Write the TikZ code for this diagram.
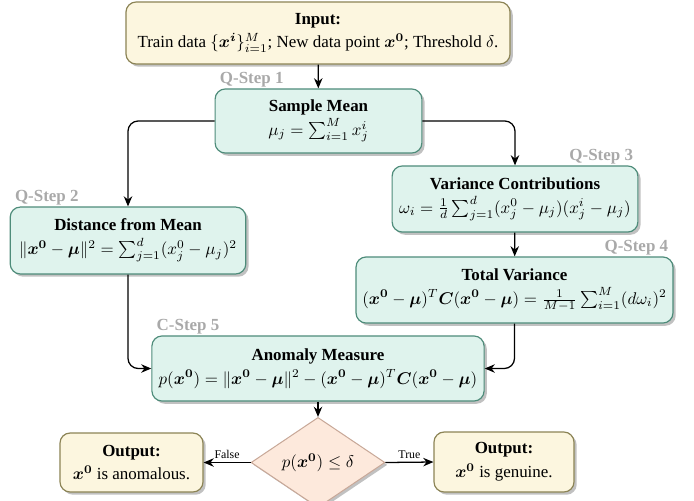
\documentclass[tikz,border=0pt]{standalone}
\usepackage{amsmath}
\usepackage[no-math]{fontspec}
\setmainfont{Liberation Serif}
\usetikzlibrary{shapes.geometric,shadows,arrows.meta}
\definecolor{procfill}{HTML}{DFF3ED}
\definecolor{procdraw}{HTML}{4E8C7A}
\definecolor{iofill}{HTML}{FCF6DF}
\definecolor{iodraw}{HTML}{8C8456}
\definecolor{decfill}{HTML}{FDE9DC}
\definecolor{decdraw}{HTML}{C8A898}
\definecolor{labgray}{HTML}{A9A9A9}
\newcommand{\bmu}{\boldsymbol{\mu}}
\newcommand{\bC}{\boldsymbol{C}}
\newcommand{\xo}{\boldsymbol{x^0}}
\begin{document}
\begin{tikzpicture}[x=0.59pt,y=-0.59pt,
  boxbase/.style={rounded corners=6pt, line width=0.7pt, align=center, inner sep=2pt,
    drop shadow={shadow xshift=1.6pt, shadow yshift=-1.6pt, fill=black!30, opacity=0.8}},
  proc/.style={boxbase, draw=procdraw, fill=procfill},
  iobox/.style={boxbase, draw=iodraw, fill=iofill},
  decbox/.style={diamond, draw=decdraw, fill=decfill, line width=0.6pt, inner sep=0pt,
    minimum width=79pt, minimum height=40.7pt,
    drop shadow={shadow xshift=1.4pt, shadow yshift=-1.4pt, fill=black!30, opacity=0.8}},
  steplab/.style={text=labgray, font=\bfseries, anchor=south west, inner xsep=3pt, inner ysep=0.8pt},
  steplabr/.style={text=labgray, font=\bfseries, anchor=south east, inner xsep=3pt, inner ysep=0.8pt},
  conn/.style={line width=0.75pt, rounded corners=6pt, -{Stealth[length=6pt,width=5pt]}},
  edgelab/.style={font=\scriptsize, above, inner sep=2pt}
]
\useasboundingbox (0,0) rectangle (694,500);

\node[iobox, minimum width=226.6pt, minimum height=36.6pt] (in) at (318,33)
  {\textbf{Input:}\\[1.5pt] Train data $\{\boldsymbol{x^i}\}_{i=1}^{M}$; New data point $\xo$; Threshold $\delta$.};

\node[proc, minimum width=122pt, minimum height=37.8pt] (sm) at (318.5,121)
  {\textbf{Sample Mean}\\[2pt] $\mu_j=\sum_{i=1}^{M} x_j^i$};

\node[proc, minimum width=139pt, minimum height=39.5pt] (dm) at (128,240.5)
  {\textbf{Distance from Mean}\\[2pt] $\|\xo-\bmu\|^2=\sum_{j=1}^{d}(x_j^0-\mu_j)^2$};

\node[proc, minimum width=145pt, minimum height=39pt] (vc) at (515,199)
  {\textbf{Variance Contributions}\\[2pt] $\omega_i=\frac{1}{d}\sum_{j=1}^{d}(x_j^0-\mu_j)(x_j^i-\mu_j)$};

\node[proc, minimum width=187pt, minimum height=39pt] (tv) at (514.5,290)
  {\textbf{Total Variance}\\[2pt] $(\xo-\bmu)^T\bC(\xo-\bmu)=\frac{1}{M-1}\sum_{i=1}^{M}(d\omega_i)^2$};

\node[proc, minimum width=196pt, minimum height=38.4pt] (am) at (318,368.5)
  {\textbf{Anomaly Measure}\\[2pt] $p(\xo)=\|\xo-\bmu\|^2-(\xo-\bmu)^T\bC(\xo-\bmu)$};

\node[decbox] (dec) at (318,462.5) {$p(\xo)\leq\delta$};

\node[iobox, minimum width=84.4pt, minimum height=34.8pt] (outl) at (131.5,462.5)
  {\textbf{Output:}\\[2pt] $\xo$ is anomalous.};

\node[iobox, minimum width=82.6pt, minimum height=35.4pt] (outr) at (504,462)
  {\textbf{Output:}\\[2pt] $\xo$ is genuine.};

\node[steplab] (l1) at (sm.north west) {Q-Step 1};
\node[steplab] (l2) at (dm.north west) {Q-Step 2};
\node[steplabr] (l3) at (vc.north east) {Q-Step 3};
\node[steplabr] (l4) at (tv.north east) {Q-Step 4};
\node[steplab] (l5) at (am.north west) {C-Step 5};

\draw[conn] (in) -- (sm);
\draw[conn] (sm.west) -| (dm.north);
\draw[conn] (sm.east) -| (vc.north);
\draw[conn] (vc) -- (tv);
\draw[conn] (dm.south) |- (am.west);
\draw[conn] (tv.south) |- (am.east);
\draw[conn] (am) -- (dec);
\draw[conn] (dec.west) -- node[edgelab] {False} (outl.east);
\draw[conn] (dec.east) -- node[edgelab] {True} (outr.west);
\end{tikzpicture}
\end{document}
